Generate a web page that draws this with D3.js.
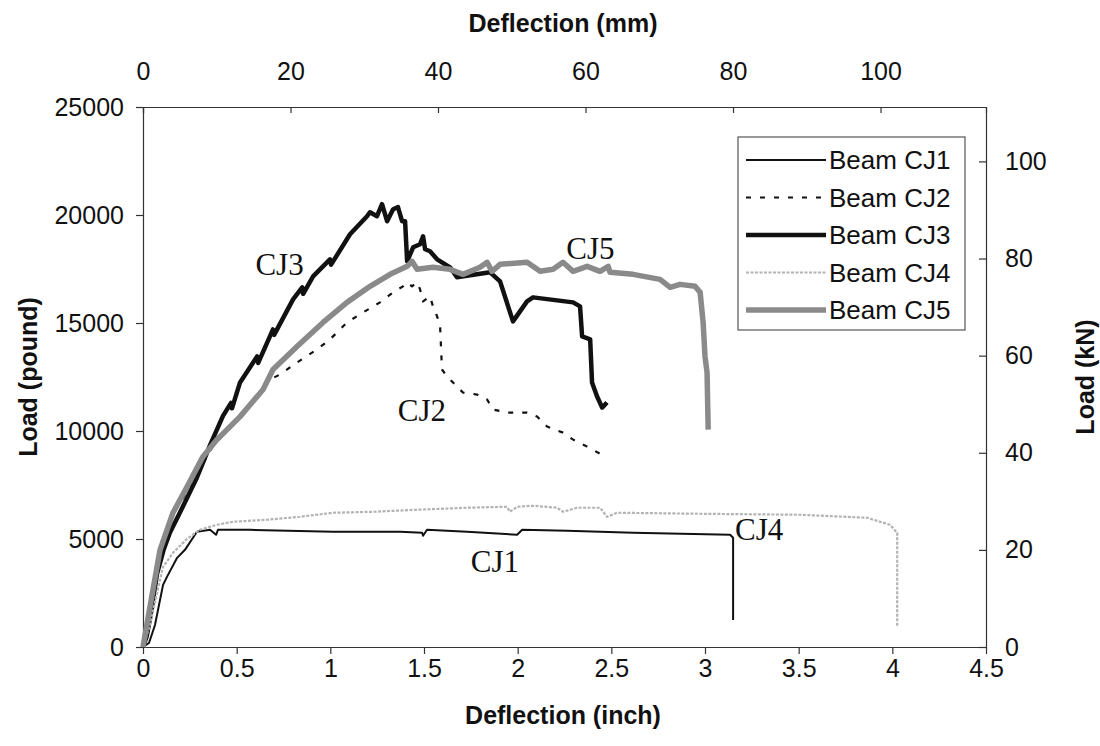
<!DOCTYPE html>
<html>
<head>
<meta charset="utf-8">
<script src="https://cdn.jsdelivr.net/npm/d3@7"></script>
<style>
  body { margin: 0; background: #fff; }
  svg text { font-family: "Liberation Sans", Arial, sans-serif; fill: #111; }
  .axis path, .axis line { stroke: #333; stroke-width: 1.2; }
</style>
</head>
<body>
<svg id="chart" width="1100" height="746"></svg>
<script>
// Load–deflection records, [deflection (inch), load (pound)]
const beamCJ1 = [[0,0],[0.032,186],[0.064,1020],[0.107,2876],[0.128,3247],[0.182,4128],[0.224,4499],
  [0.288,5334],[0.358,5426],[0.390,5195],[0.400,5426],[0.571,5426],[1.014,5334],[1.372,5334],
  [1.490,5287],[1.495,5148],[1.516,5426],[1.730,5334],[1.997,5195],[2.024,5426],[2.264,5380],
  [2.616,5287],[3.134,5195],[3.150,5055],[3.150,1252]];

const beamCJ2 = [[0,0],[0.037,1716],[0.091,4267],[0.160,6122],[0.251,7421],[0.374,9322],[0.518,10621],
  [0.625,11688],[0.678,12383],[0.731,12615],[0.822,13172],[0.929,13775],[0.998,14239],[1.089,15027],
  [1.175,15491],[1.265,15955],[1.335,16418],[1.388,16697],[1.410,16882],[1.436,16697],[1.463,16882],
  [1.479,16558],[1.495,16001],[1.532,16233],[1.548,15769],[1.570,15305],[1.586,14842],[1.596,12847],
  [1.623,12522],[1.655,12244],[1.708,11780],[1.783,11688],[1.837,11456],[1.869,10992],[1.943,10853],
  [2.050,10853],[2.104,10667],[2.157,10204],[2.242,9925],[2.296,9601],[2.371,9276],[2.477,8766]];

const beamCJ3 = [[0,0],[0.02,500],[0.045,1700],[0.075,3400],[0.11,4500],[0.144,5300],[0.19,6100],
  [0.235,6900],[0.288,7850],[0.358,9350],[0.427,10700],[0.47,11300],[0.475,11050],[0.518,12250],
  [0.609,13450],[0.615,13150],[0.694,14702],[0.70,14450],[0.801,16094],[0.85,16650],[0.855,16350],
  [0.908,17160],[0.998,17949],[1.004,17700],[1.105,19109],[1.196,19943],[1.212,20129],[1.249,19943],
  [1.276,20500],[1.303,19712],[1.335,20268],[1.361,20361],[1.383,19712],[1.399,19712],[1.410,17856],
  [1.442,18506],[1.479,18645],[1.495,19016],[1.506,18413],[1.532,18320],[1.570,17949],[1.639,17578],
  [1.676,17114],[1.853,17346],[1.906,16929],[1.975,15074],[2.050,16001],[2.082,16187],[2.296,15955],
  [2.333,15769],[2.344,14378],[2.387,14239],[2.397,12244],[2.424,11595],[2.451,11085],[2.477,11317]];

const beamCJ4 = [[0,0],[0.037,1020],[0.075,2505],[0.107,3710],[0.160,4360],[0.235,5009],[0.304,5426],
  [0.395,5658],[0.481,5798],[0.662,5890],[0.838,6029],[1.014,6215],[1.228,6261],[1.463,6354],
  [1.730,6447],[1.943,6493],[1.959,6261],[1.997,6493],[2.082,6540],[2.210,6447],[2.242,6261],
  [2.317,6447],[2.440,6447],[2.477,6029],[2.531,6215],[2.974,6168],[3.508,6122],[3.865,5983],
  [3.988,5658],[4.026,5287],[4.026,928]];

const beamCJ5 = [[0,0],[0.037,1855],[0.091,4499],[0.160,6215],[0.235,7421],[0.320,8812],[0.395,9601],
  [0.518,10667],[0.641,11920],[0.694,12847],[0.822,13914],[0.961,15027],[1.089,15955],[1.212,16697],
  [1.319,17253],[1.410,17624],[1.436,17856],[1.463,17485],[1.548,17578],[1.639,17485],[1.708,17253],
  [1.799,17578],[1.837,17810],[1.863,17392],[1.906,17717],[2.050,17810],[2.120,17392],[2.189,17485],
  [2.242,17810],[2.296,17392],[2.371,17624],[2.440,17392],[2.483,17624],[2.493,17346],[2.616,17253],
  [2.760,17021],[2.814,16650],[2.867,16789],[2.947,16697],[2.974,16418],[2.990,15027],[3.000,13450],
  [3.011,12708],[3.017,10064]];

const seriesNames = ["Beam CJ1", "Beam CJ2", "Beam CJ3", "Beam CJ4", "Beam CJ5"];
const curveLabels = ["CJ1", "CJ2", "CJ3", "CJ4", "CJ5"];
const inchTicks = [0, 0.5, 1, 1.5, 2, 2.5, 3, 3.5, 4, 4.5];
const poundTicks = [0, 5000, 10000, 15000, 20000, 25000];
const mmTicks = [0, 20, 40, 60, 80, 100];
const kNTicks = [0, 20, 40, 60, 80, 100];

const MM_PER_INCH = 25.4;
const KN_PER_POUND = 0.00444822;

const svg = d3.select("#chart");
const plot = { left: 143, right: 986, top: 107, bottom: 647 };

const x = d3.scaleLinear().domain([0, 4.5]).range([plot.left, plot.right]);
const y = d3.scaleLinear().domain([0, 25000]).range([plot.bottom, plot.top]);
const xMM = d3.scaleLinear().domain([0, 4.5 * MM_PER_INCH]).range([plot.left, plot.right]);
const yKN = d3.scaleLinear().domain([0, 25000 * KN_PER_POUND]).range([plot.bottom, plot.top]);

const TICK_FONT = "25px";

// Axes
svg.append("g").attr("class", "axis")
  .attr("transform", `translate(0,${plot.bottom})`)
  .call(d3.axisBottom(x).tickValues(inchTicks).tickFormat(d3.format("~g"))
    .tickSizeInner(7).tickSizeOuter(0).tickPadding(5))
  .call(g => g.selectAll("text").style("font-size", TICK_FONT));

svg.append("g").attr("class", "axis")
  .attr("transform", `translate(${plot.left},0)`)
  .call(d3.axisLeft(y).tickValues(poundTicks).tickFormat(d3.format("d"))
    .tickSizeInner(7).tickSizeOuter(0).tickPadding(12))
  .call(g => g.selectAll("text").style("font-size", TICK_FONT));

svg.append("g").attr("class", "axis")
  .attr("transform", `translate(0,${plot.top})`)
  .call(d3.axisTop(xMM).tickValues(mmTicks).tickFormat(d3.format("d"))
    .tickSizeInner(-6).tickSizeOuter(-6).tickPadding(27))
  .call(g => g.selectAll("text").style("font-size", TICK_FONT));

svg.append("g").attr("class", "axis")
  .attr("transform", `translate(${plot.right},0)`)
  .call(d3.axisRight(yKN).tickValues(kNTicks).tickFormat(d3.format("d"))
    .tickSizeInner(-7).tickSizeOuter(0).tickPadding(19))
  .call(g => g.selectAll("text").style("font-size", TICK_FONT));

// Axis titles
const title = (txt, tx, ty, rot) => svg.append("text")
  .attr("transform", `translate(${tx},${ty}) rotate(${rot})`)
  .attr("text-anchor", "middle").attr("dominant-baseline", "central")
  .style("font-size", "25px").style("font-weight", "bold").text(txt);
title("Deflection (inch)", 563, 715, 0);
title("Deflection (mm)", 563, 23, 0);
title("Load (pound)", 28, 377, -90);
title("Load (kN)", 1085, 377, -90);

// Curves
const styles = [
  { color: "#111", width: 2, dash: null },
  { color: "#111", width: 2.2, dash: "5,9" },
  { color: "#111", width: 4.5, dash: null },
  { color: "#b3b3b3", width: 2.2, dash: "3,1.5" },
  { color: "#8a8a8a", width: 5.5, dash: null }
];
const data = [beamCJ1, beamCJ2, beamCJ3, beamCJ4, beamCJ5];
const line = d3.line().x(d => x(d[0])).y(d => y(d[1]));

data.forEach((s, i) => {
  svg.append("path").datum(s)
    .attr("d", line)
    .attr("fill", "none")
    .attr("stroke", styles[i].color)
    .attr("stroke-width", styles[i].width)
    .attr("stroke-linejoin", "round")
    .attr("stroke-dasharray", styles[i].dash);
});

// Curve labels, anchored at [deflection, load]
const labelPos = [[1.75, 3460], [1.36, 10450], [0.6, 17200], [3.16, 4970], [2.26, 17950]];
labelPos.forEach((p, i) => {
  svg.append("text")
    .attr("x", x(p[0])).attr("y", y(p[1]))
    .style("font-family", "'Liberation Serif', 'Times New Roman', serif")
    .style("font-size", "31px")
    .text(curveLabels[i]);
});

// Legend
const legend = svg.append("g").attr("transform", "translate(738,137)");
legend.append("rect").attr("width", 227).attr("height", 193)
  .attr("fill", "#fff").attr("stroke", "#555").attr("stroke-width", 1.2);
seriesNames.forEach((name, i) => {
  const cy = 23 + i * 37.5;
  legend.append("line").attr("x1", 8).attr("x2", 88).attr("y1", cy).attr("y2", cy)
    .attr("stroke", styles[i].color).attr("stroke-width", styles[i].width)
    .attr("stroke-dasharray", styles[i].dash);
  legend.append("text").attr("x", 91).attr("y", cy).attr("dominant-baseline", "central")
    .style("font-size", "26px").text(name);
});
</script>
</body>
</html>
